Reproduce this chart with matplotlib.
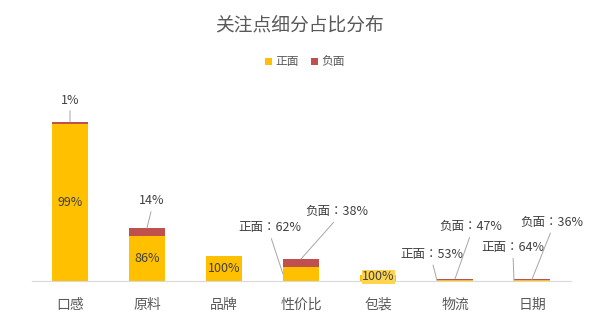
import matplotlib
matplotlib.use('Agg')
import matplotlib.pyplot as plt
import numpy as np

plt.rcParams['font.family'] = ['Noto Sans CJK SC', 'DejaVu Sans']

# data (bar heights, arbitrary units)
categories = ['口感', '原料', '品牌', '性价比', '包装', '物流', '日期']
positive = [157.4, 45.5, 25, 14, 6, 1.1, 1.0]
negative = [1.6, 7.5, 0, 8, 0, 1.0, 0.6]
pos_pct = [99, 86, 100, 62, 100, 53, 64]
neg_pct = [1, 14, 0, 38, 0, 47, 36]

yellow = '#FFC000'
red = '#C0504D'
txt = '#404040'
line_c = '#A6A6A6'
fs = 9

fig = plt.figure(figsize=(6, 3.27), dpi=100)
ax = fig.add_axes([31.5 / 600, 46 / 327, 539 / 600, 181 / 327])

x = np.arange(len(categories))
w = 0.468
b1 = ax.bar(x, positive, width=w, color=yellow, label='正面')
b2 = ax.bar(x, negative, width=w, bottom=positive, color=red, label='负面')

ax.set_xlim(-0.5, len(categories) - 0.5)
ax.set_ylim(0, 181)
for s in ['top', 'right', 'left']:
    ax.spines[s].set_visible(False)
ax.spines['bottom'].set_color('#D9D9D9')
ax.set_yticks([])
ax.set_xticks(x)
ax.set_xticklabels(categories, fontsize=10, color='#595959')
ax.tick_params(axis='x', length=0, pad=12)

lp = dict(arrowstyle='-', color=line_c, lw=0.7, shrinkA=1, shrinkB=0, relpos=(0.5, 0))

# simple labels: inside the yellow part, neg label above bar
for i in range(3):
    ax.text(x[i], positive[i] / 2, f'{pos_pct[i]}%', ha='center', va='center', fontsize=fs, color=txt)
tot = [p + n for p, n in zip(positive, negative)]
ax.annotate('1%', xy=(x[0], tot[0]), xytext=(0, 22), textcoords='offset pixels',
            ha='center', va='center', fontsize=fs, color=txt, arrowprops=lp)
ax.annotate('14%', xy=(x[1], tot[1]), xytext=(5, 27), textcoords='offset pixels',
            ha='center', va='center', fontsize=fs, color=txt, arrowprops=lp)

# 包装
ax.text(x[4], positive[4] / 2 + 1, f'{pos_pct[4]}%', ha='center', va='center', fontsize=fs, color=txt,
        bbox=dict(boxstyle='square,pad=0.02', fc='#FFD54F', ec='none'))

# 正面/负面 labels with leader lines (TC font has a centred full-width colon)
lab_font = ['Noto Sans CJK TC', 'DejaVu Sans']
pos_off = {3: (-13, 46), 5: (-5, 26), 6: (-1, 33)}
neg_off = {3: (36, 47), 5: (16, 52), 6: (20, 57)}
for i, off in pos_off.items():
    ax.annotate(f'正面：{pos_pct[i]}%', xy=(x[i] - w / 2, positive[i] / 2), xytext=off,
                textcoords='offset pixels', ha='center', va='center', fontsize=fs, color=txt,
                family=lab_font, arrowprops=lp)
for i, off in neg_off.items():
    ax.annotate(f'负面：{neg_pct[i]}%', xy=(x[i], tot[i]), xytext=off,
                textcoords='offset pixels', ha='center', va='center', fontsize=fs, color=txt,
                family=lab_font, arrowprops=lp)

fig.text(300 / 600, 1 - 25 / 327, '关注点细分占比分布', ha='center', va='center', fontsize=13.5, color='#595959')
fig.legend(handles=[b1, b2], loc='center', bbox_to_anchor=(305 / 600, 1 - 62 / 327), ncol=2,
           frameon=False, fontsize=8.5, handlelength=0.6, handleheight=0.6, handletextpad=0.3,
           columnspacing=1.0, labelcolor='#595959')

fig.savefig('out.png', dpi=100)
